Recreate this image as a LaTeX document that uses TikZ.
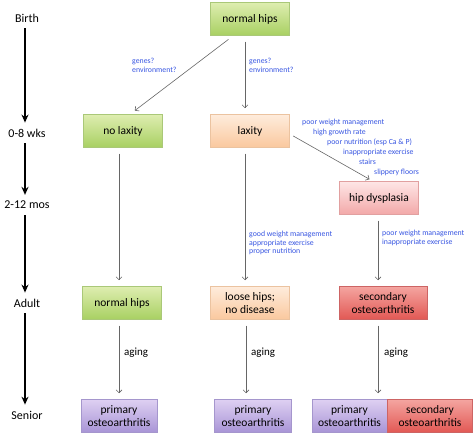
\documentclass[tikz,border=0pt]{standalone}
\usepackage{fontspec}
\setmainfont{Carlito}
\usetikzlibrary{arrows.meta, positioning}
\definecolor{hipgreenT}{RGB}{222,237,176}
\definecolor{hipgreenB}{RGB}{168,208,98}
\definecolor{hipgreenD}{RGB}{170,200,120}
\definecolor{hippeachT}{RGB}{254,236,220}
\definecolor{hippeachB}{RGB}{250,200,158}
\definecolor{hippeachD}{RGB}{235,195,160}
\definecolor{hippinkT}{RGB}{254,230,230}
\definecolor{hippinkB}{RGB}{242,168,168}
\definecolor{hippinkD}{RGB}{225,160,160}
\definecolor{hipredT}{RGB}{244,165,160}
\definecolor{hipredB}{RGB}{226,88,84}
\definecolor{hipredD}{RGB}{205,100,100}
\definecolor{hippurpT}{RGB}{222,208,242}
\definecolor{hippurpB}{RGB}{168,148,214}
\definecolor{hippurpD}{RGB}{165,150,205}
\definecolor{hipnote}{RGB}{55,85,225}

\begin{document}
\begin{tikzpicture}[x=1pt, y=-1pt,
  stage/.style={minimum width=79pt, minimum height=33pt, align=center,
                inner sep=1pt, line width=0.5pt,
                font=\fontsize{11.5}{13}\selectfont},
  greenbox/.style={stage, draw=hipgreenD, top color=hipgreenT, bottom color=hipgreenB},
  peachbox/.style={stage, draw=hippeachD, top color=hippeachT, bottom color=hippeachB},
  pinkbox/.style={stage, draw=hippinkD, top color=hippinkT, bottom color=hippinkB},
  redbox/.style={stage, draw=hipredD, top color=hipredT, bottom color=hipredB},
  purplebox/.style={stage, draw=hippurpD, top color=hippurpT, bottom color=hippurpB},
  era/.style={font=\fontsize{12}{14}\selectfont, inner sep=1pt},
  note/.style={font=\fontsize{7.8}{8.8}\selectfont, text=hipnote, inner sep=0pt,
               anchor=west, align=left},
  aging/.style={font=\fontsize{11}{13}\selectfont, inner sep=0pt, anchor=west},
  link/.style={-{Straight Barb[length=3pt,width=6pt]}, draw=black!60, line width=0.6pt,
               shorten <=6pt, shorten >=6pt},
  timeline/.style={-{Stealth[length=8pt,width=7pt]}, line width=1.5pt,
                   shorten <=5pt, shorten >=5pt},
]
  \useasboundingbox (0,0) rectangle (474,435);

  % Time axis
  \node[era] (birth)  at (27,18)  {Birth};
  \node[era] (wks)    at (27,133) {0-8 wks};
  \node[era] (mos)    at (27,205) {2-12 mos};
  \node[era] (adult)  at (27,303) {Adult};
  \node[era] (senior) at (27,415) {Senior};

  \draw[timeline] ([xshift=-2pt]birth.south) -- ([xshift=-2pt]wks.north);
  \draw[timeline] ([xshift=-2pt]wks.south) -- ([xshift=-2pt]mos.north);
  \draw[timeline] ([xshift=-2pt]mos.south) -- ([xshift=-2pt]adult.north);
  \draw[timeline] ([xshift=-2pt]adult.south) -- ([xshift=-2pt]senior.north);

  % Stages
  \node[greenbox] (start) at (250,19) {normal hips};
  \node[greenbox] (nolax) at (123,131) {no laxity};
  \node[peachbox] (lax)   at (250,131) {laxity};
  \node[pinkbox]  (dysp)  at (379,198) {hip dysplasia};
  \node[greenbox] (normal) at (122,303) {normal hips};
  \node[peachbox] (loose)  at (250,303) {loose hips;\\no disease};
  \node[redbox, minimum width=88pt] (second) at (383,303) {secondary\\osteoarthritis};
  \node[purplebox, minimum width=76pt] (prim1) at (119,416) {primary\\osteoarthritis};
  \node[purplebox, minimum width=77pt] (prim2) at (253,416) {primary\\osteoarthritis};
  \node[purplebox, minimum width=75pt] (prim3) at (349.5,416) {primary\\osteoarthritis};
  \node[redbox, minimum width=85pt, anchor=west] (sec3) at (prim3.east) {secondary\\osteoarthritis};

  % Transitions
  \draw[link] ([xshift=23pt]start.south west) -- ([xshift=7pt]nolax.north);
  \draw[link] ([xshift=-5pt]start.south) -- ([xshift=-5pt]lax.north);
  \draw[link] ([xshift=-4pt]nolax.south) -- ([xshift=-3pt]normal.north);
  \draw[link] ([xshift=-5pt]lax.south) -- ([xshift=-5pt]loose.north);
  \draw[link, shorten <=4pt, shorten >=4pt] ([yshift=-3pt]lax.east) -- ([xshift=-6pt]dysp.north);
  \draw[link] ([xshift=-1pt]dysp.south) -- ([xshift=-5pt]second.north);
  \draw[link] ([xshift=-3pt]normal.south) -- (prim1.north);
  \draw[link] ([xshift=-4pt]loose.south) -- ([xshift=-7pt]prim2.north);
  \draw[link] ([xshift=-5pt]second.south) -- ([xshift=-5pt]second.south |- prim3.north);

  % Factors
  \node[note] (g1) at (132,65) {genes?\\environment?};
  \node[note] (g2) at (249,65) {genes?\\environment?};
  \node[note] (f1) at (302,122) {poor weight management};
  \node[note] (f2) at (313,132) {high growth rate};
  \node[note] (f3) at (327,142) {poor nutrition (esp Ca \& P)};
  \node[note] (f4) at (343,152) {inappropriate exercise};
  \node[note] (f5) at (359,162) {stairs};
  \node[note] (f6) at (374,172) {slippery floors};
  \node[note] (good) at (249,243) {good weight management\\appropriate exercise\\proper nutrition};
  \node[note] (poor) at (382,238) {poor weight management\\inappropriate exercise};

  \node[aging] (a1) at (124,353) {aging};
  \node[aging] (a2) at (251,353) {aging};
  \node[aging] (a3) at (384,353) {aging};
\end{tikzpicture}
\end{document}
